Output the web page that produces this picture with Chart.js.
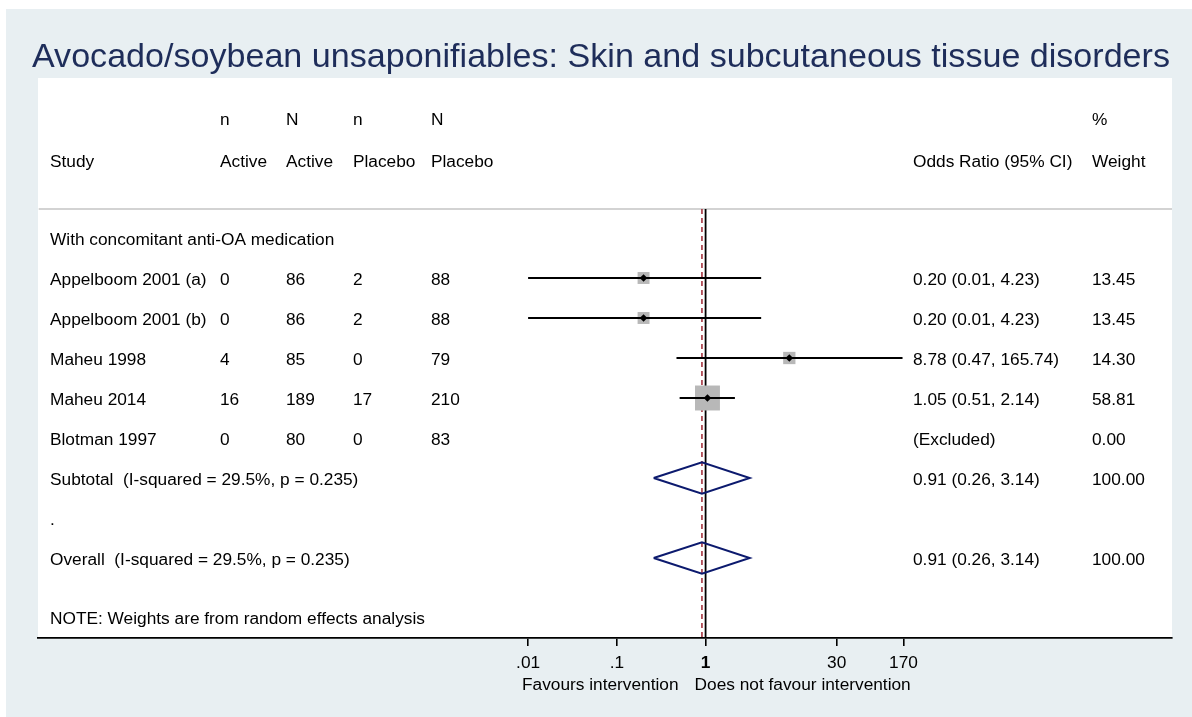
<!DOCTYPE html>
<html>
<head>
<meta charset="utf-8">
<script src="https://cdn.jsdelivr.net/npm/chart.js@4/dist/chart.umd.min.js"></script>
<style>
  html, body { margin: 0; padding: 0; background: #fff; }
  #bg { position: absolute; left: 6px; top: 9px; width: 1186px; height: 708px; background: #e8eff2; }
  #wrap { position: absolute; left: 0; top: 0; width: 1192px; height: 717px; }
</style>
</head>
<body>
<div id="bg"></div>
<div id="wrap"><canvas id="forest"></canvas></div>
<script>
// --- data ---
const studies = ["Appelboom 2001 (a)", "Appelboom 2001 (b)", "Maheu 1998", "Maheu 2014", "Blotman 1997"];
const nActive = [0, 0, 4, 16, 0];
const NActive = [86, 86, 85, 189, 80];
const nPlacebo = [2, 2, 0, 17, 0];
const NPlacebo = [88, 88, 79, 210, 83];
const orEst = [0.20, 0.20, 8.78, 1.05, null];
const orLow = [0.01, 0.01, 0.47, 0.51, null];
const orHigh = [4.23, 4.23, 165.74, 2.14, null];
const weights = [13.45, 13.45, 14.30, 58.81, 0.00];

const pooledLabels = ["Subtotal  (I-squared = 29.5%, p = 0.235)", "Overall  (I-squared = 29.5%, p = 0.235)"];
const pooledEst = [0.91, 0.91];
const pooledLow = [0.26, 0.26];
const pooledHigh = [3.14, 3.14];
const pooledWeight = [100.00, 100.00];

const xTicks = [0.01, 0.1, 1, 30, 170];
const xTickLabels = [".01", ".1", "1", "30", "170"];

// row layout (y units, one per line of the table)
const studyRows = [1, 2, 3, 4, 5];
const pooledRows = [6, 8];
const headerLineRow = -0.725;

const FONT = '"Liberation Sans", Arial, Helvetica, sans-serif';
const TXT = 17.3;
const xMin = Math.pow(10, -7.515), xMax = Math.pow(10, 5.256);

const fmt = v => v.toFixed(2);
const ciText = i => orEst[i] == null ? "(Excluded)" : `${fmt(orEst[i])} (${fmt(orLow[i])}, ${fmt(orHigh[i])})`;

// --- datasets ---
const datasets = [];
datasets.push({ label: "grid", showLine: true, borderColor: "#c4c4c4", borderWidth: 1.5, pointRadius: 0, order: 6,
  data: [{ x: xMin, y: headerLineRow }, { x: xMax, y: headerLineRow }] });
datasets.push({ label: "null", showLine: true, borderColor: "#000", borderWidth: 1.8, pointRadius: 0, order: 5,
  data: [{ x: 1, y: headerLineRow }, { x: 1, y: 10 }] });
datasets.push({ label: "pooled", showLine: true, borderColor: "#a4343f", borderWidth: 1.6, borderDash: [5, 4], pointRadius: 0, order: 5,
  data: [{ x: pooledEst[1], y: headerLineRow }, { x: pooledEst[1], y: 10 }] });

const sq = [], dots = [];
studies.forEach((s, i) => {
  if (orEst[i] == null) return;
  const r = studyRows[i];
  datasets.push({ label: s, showLine: true, borderColor: "#000", borderWidth: 1.8, pointRadius: 0, order: 1,
    data: [{ x: orLow[i], y: r }, { x: orHigh[i], y: r }] });
  sq.push({ x: orEst[i], y: r, w: weights[i] });
  dots.push({ x: orEst[i], y: r });
});
datasets.push({ label: "weights", data: sq, pointStyle: "rect", backgroundColor: "#b8b8b8", borderWidth: 0, order: 2,
  pointRadius: sq.map(p => 2.3 * Math.sqrt(p.w)) });
datasets.push({ label: "estimates", data: dots, pointStyle: "rectRot", backgroundColor: "#000", borderColor: "#000", borderWidth: 0, pointRadius: 3.8, order: 0 });

pooledRows.forEach((r, k) => {
  datasets.push({ label: pooledLabels[k], showLine: true, borderColor: "#0c1a6e", borderWidth: 2, pointRadius: 0, order: 3,
    data: [
      { x: pooledLow[k], y: r }, { x: pooledEst[k], y: r - 0.39 }, { x: pooledHigh[k], y: r },
      { x: pooledEst[k], y: r + 0.39 }, { x: pooledLow[k], y: r }
    ] });
});

// --- table text and panel ---
const tablePlugin = {
  id: "table",
  beforeDraw(chart) {
    const { ctx, chartArea: a } = chart;
    ctx.save();
    ctx.fillStyle = "#fff";
    ctx.fillRect(a.left, a.top, a.right - a.left, a.bottom - a.top);
    ctx.restore();
  },
  afterDraw(chart) {
    const { ctx } = chart;
    const ys = chart.scales.y, xs = chart.scales.x;
    const base = v => ys.getPixelForValue(v) + 7.4;
    const cols = [50, 220, 286, 353, 431];
    const orCol = 913, wCol = 1092;
    ctx.save();
    ctx.fillStyle = "#1e2d5a";
    ctx.font = "34.1px " + FONT;
    ctx.textBaseline = "alphabetic";
    ctx.fillText("Avocado/soybean unsaponifiables: Skin and subcutaneous tissue disorders", 32, 67);

    ctx.fillStyle = "#000";
    ctx.font = TXT + "px " + FONT;
    const put = (t, x, v) => ctx.fillText(t, x, base(v));
    ["n", "N", "n", "N"].forEach((t, j) => put(t, cols[j + 1], -3));
    ["Study", "Active", "Active", "Placebo", "Placebo"].forEach((t, j) => put(t, cols[j], -1.95));
    put("%", wCol, -3);
    put("Odds Ratio (95% CI)", orCol, -1.95);
    put("Weight", wCol, -1.95);

    put("With concomitant anti-OA medication", cols[0], 0);
    studies.forEach((s, i) => {
      const r = studyRows[i];
      put(s, cols[0], r);
      put(String(nActive[i]), cols[1], r);
      put(String(NActive[i]), cols[2], r);
      put(String(nPlacebo[i]), cols[3], r);
      put(String(NPlacebo[i]), cols[4], r);
      put(ciText(i), orCol, r);
      put(fmt(weights[i]), wCol, r);
    });
    pooledRows.forEach((r, k) => {
      put(pooledLabels[k], cols[0], r);
      put(`${fmt(pooledEst[k])} (${fmt(pooledLow[k])}, ${fmt(pooledHigh[k])})`, orCol, r);
      put(fmt(pooledWeight[k]), wCol, r);
    });
    put(".", cols[0], 7);
    put("NOTE: Weights are from random effects analysis", cols[0], 9.47);

    const one = xs.getPixelForValue(1);
    ctx.textAlign = "right";
    ctx.fillText("Favours intervention", one - 27, 690);
    ctx.textAlign = "left";
    ctx.fillText("Does not favour intervention", one - 11, 690);
    ctx.restore();
  }
};

new Chart(document.getElementById("forest"), {
  type: "scatter",
  data: { datasets },
  options: {
    responsive: true,
    maintainAspectRatio: false,
    animation: false,
    events: [],
    layout: { padding: { left: 38, right: 20, top: 78, bottom: 39 } },
    plugins: { legend: { display: false }, tooltip: { enabled: false } },
    scales: {
      x: {
        type: "logarithmic",
        min: xMin,
        max: xMax,
        afterBuildTicks: s => { s.ticks = xTicks.map(v => ({ value: v })); },
        afterFit: s => { s.height = 40; },
        ticks: {
          autoSkip: false,
          maxRotation: 0,
          padding: 7,
          color: "#000",
          font: c => ({ family: FONT, size: TXT, weight: c.tick && c.tick.value === 1 ? "bold" : "normal" }),
          callback: (v, i) => xTickLabels[i]
        },
        grid: { display: true, drawOnChartArea: false, drawTicks: true, tickLength: 8, color: "#000", lineWidth: 1.6 },
        border: { display: true, color: "#000", width: 1.8 }
      },
      y: { type: "linear", min: -4, max: 10, reverse: true, display: false }
    }
  },
  plugins: [tablePlugin]
});
</script>
</body>
</html>
